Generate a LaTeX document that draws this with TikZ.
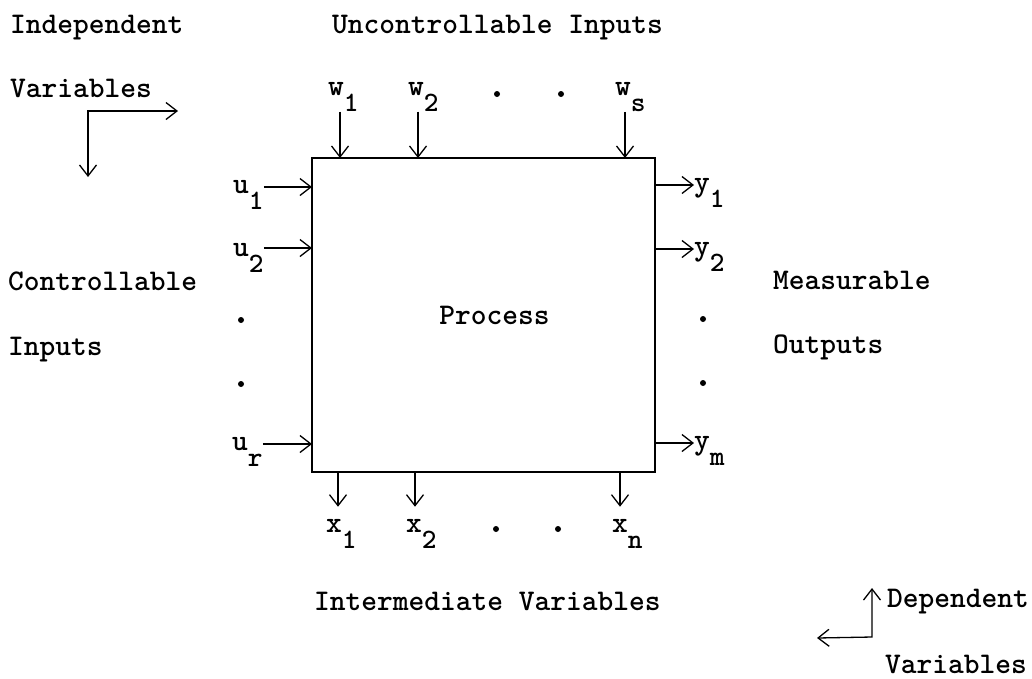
\documentclass[tikz,border=0pt]{standalone}
\usepackage{tikz}
\usetikzlibrary{arrows.meta}
\newcommand{\sub}[1]{\raisebox{-0.55em}{\fontsize{28}{28}\selectfont #1}}

\begin{document}
\begin{tikzpicture}[x=1pt, y=-1pt, >={Straight Barb[length=11pt,width=17pt]},
  font=\fontsize{30}{36}\selectfont\ttfamily\bfseries,
  txt/.style={anchor=base west, inner sep=0pt},
  arr/.style={->, line width=1.3pt},
  dot/.style={circle, fill=black, inner sep=0pt, minimum size=6pt}]
  \useasboundingbox (0,0) rectangle (1032,678);

  % the process box
  \node[draw, line width=1.6pt, minimum width=343pt, minimum height=314pt, inner sep=0pt] (proc) at (483.5,315) {\hspace*{22pt}Process};

  % captions
  \node[txt] (indep)   at (10,33)   {Independent};
  \node[txt] (indvar)  at (10,97)   {Variables};
  \node[txt] (unctl)   at (332,33)  {Uncontrollable Inputs};
  \node[txt] (ctl)     at (8,290)   {Controllable};
  \node[txt] (ctlin)   at (8,355)   {Inputs};
  \node[txt] (meas)    at (773,289) {Measurable};
  \node[txt] (measout) at (773,353) {Outputs};
  \node[txt] (inter)   at (314,610) {Intermediate Variables};
  \node[txt] (dep)     at (887,607) {Dependent};
  \node[txt] (depvar)  at (885,673) {Variables};

  % uncontrollable inputs w
  \node[txt] (w1) at (328,95) {w\sub{1}};
  \node[txt] (w2) at (408,95) {w\sub{2}};
  \node[txt] (ws) at (615,95) {w\sub{s}};
  \node[dot] (wd1) at (497,94) {};
  \node[dot] (wd2) at (561,94) {};
  \coordinate (w1in) at (340,158);
  \coordinate (w2in) at (418,158);
  \coordinate (wsin) at (625,158);
  \draw[arr] (w1in |- w1.south) -- (w1in);
  \draw[arr] (w2in |- w2.south) -- (w2in);
  \draw[arr] (wsin |- ws.south) -- (wsin);

  % controllable inputs u
  \node[txt] (u1) at (233,193) {u\sub{1}};
  \node[txt] (u2) at (233,256) {u\sub{2}};
  \node[txt] (ur) at (232,450) {u\sub{r}};
  \node[dot] (ud1) at (241,320) {};
  \node[dot] (ud2) at (241,384) {};
  \coordinate (u1in) at (312,187);
  \coordinate (u2in) at (312,248);
  \coordinate (urin) at (312,444);
  \draw[arr] (u1.east |- u1in) -- (u1in);
  \draw[arr] (u2.east |- u2in) -- (u2in);
  \draw[arr] (ur.east |- urin) -- (urin);

  % measurable outputs y
  \node[txt] (y1) at (694,191) {y\sub{1}};
  \node[txt] (y2) at (694,255) {y\sub{2}};
  \node[txt] (ym) at (694,449) {y\sub{m}};
  \node[dot] (yd1) at (703,319) {};
  \node[dot] (yd2) at (703,383) {};
  \coordinate (y1out) at (655,185);
  \coordinate (y2out) at (655,249);
  \coordinate (ymout) at (655,443);
  \draw[arr] (y1out) -- (y1.west |- y1out);
  \draw[arr] (y2out) -- (y2.west |- y2out);
  \draw[arr] (ymout) -- (ym.west |- ymout);

  % intermediate variables x
  \node[txt] (x1) at (326,532) {x\sub{1}};
  \node[txt] (x2) at (406,532) {x\sub{2}};
  \node[txt] (xn) at (612,532) {x\sub{n}};
  \node[dot] (xd1) at (496,529) {};
  \node[dot] (xd2) at (558,529) {};
  \coordinate (x1out) at (338,472);
  \coordinate (x2out) at (415,472);
  \coordinate (xnout) at (620,472);
  \draw[arr, shorten >=12pt] (x1out) -- (x1out |- x1.north);
  \draw[arr, shorten >=12pt] (x2out) -- (x2out |- x2.north);
  \draw[arr, shorten >=12pt] (xnout) -- (xnout |- xn.north);

  % bent arrows
  \coordinate (indc) at (88,111);
  \coordinate (indr) at (178,111);
  \coordinate (indd) at (88,177);
  \draw[arr, <->] (indd) -- (indc) -- (indr);
  \coordinate (depc) at (872,637);
  \coordinate (depu) at (872,588);
  \coordinate (depl) at (817,638);
  \draw[arr, <->] (depu) -- (depc) -- (depl);
\end{tikzpicture}
\end{document}
